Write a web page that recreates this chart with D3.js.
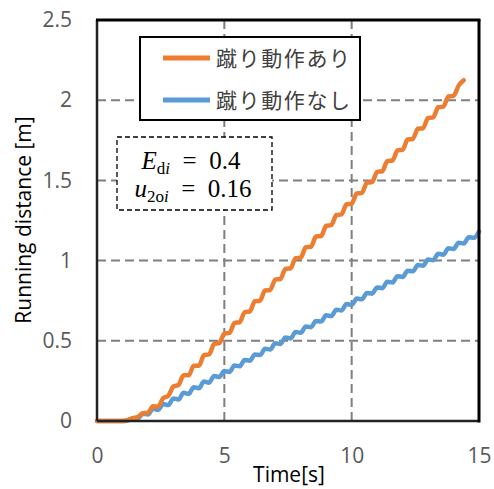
<!DOCTYPE html>
<html>
<head>
<meta charset="utf-8">
<script src="https://cdn.jsdelivr.net/npm/d3@7"></script>
<style>
  html, body { margin: 0; padding: 0; background: #fff; }
  svg { display: block; }
</style>
</head>
<body>
<svg id="chart" width="494" height="489"></svg>
<script>
// Sample times [s]
const timeS = [
  0.0, 0.2, 0.4, 0.6, 0.8, 1.0, 1.2, 1.4, 1.6, 1.8,
  2.0, 2.2, 2.4, 2.6, 2.8, 3.0, 3.2, 3.4, 3.6, 3.8,
  4.0, 4.2, 4.4, 4.6, 4.8, 5.0, 5.2, 5.4, 5.6, 5.8,
  6.0, 6.2, 6.4, 6.6, 6.8, 7.0, 7.2, 7.4, 7.6, 7.8,
  8.0, 8.2, 8.4, 8.6, 8.8, 9.0, 9.2, 9.4, 9.6, 9.8,
  10.0, 10.2, 10.4, 10.6, 10.8, 11.0, 11.2, 11.4, 11.6, 11.8,
  12.0, 12.2, 12.4, 12.6, 12.8, 13.0, 13.2, 13.4, 13.6, 13.8,
  14.0, 14.2, 14.4, 14.6, 14.8, 15.0
];

// Running distance [m] with kicking motion (ends at 14.4 s)
const distKick = [
  0, 0, 0, 0, 0, 0, 0.005, 0.018, 0.025, 0.048,
  0.052, 0.092, 0.090, 0.143, 0.157, 0.215, 0.225, 0.285, 0.285, 0.345,
  0.345, 0.410, 0.415, 0.480, 0.485, 0.545, 0.549, 0.612, 0.616, 0.679,
  0.683, 0.747, 0.750, 0.814, 0.817, 0.881, 0.885, 0.948, 0.952, 1.015,
  1.019, 1.083, 1.086, 1.150, 1.153, 1.217, 1.221, 1.284, 1.288, 1.351,
  1.355, 1.419, 1.422, 1.486, 1.489, 1.553, 1.557, 1.620, 1.624, 1.687,
  1.691, 1.755, 1.758, 1.822, 1.825, 1.889, 1.893, 1.956, 1.960, 2.023,
  2.027, 2.091, 2.125
];

// Running distance [m] without kicking motion
const distNoKick = [
  0, 0, 0, 0, 0, 0, 0.003, 0.016, 0.016, 0.045,
  0.041, 0.076, 0.069, 0.106, 0.099, 0.141, 0.134, 0.176, 0.169, 0.211,
  0.204, 0.246, 0.239, 0.281, 0.274, 0.311, 0.306, 0.346, 0.341, 0.381,
  0.376, 0.415, 0.411, 0.450, 0.446, 0.485, 0.480, 0.520, 0.515, 0.555,
  0.550, 0.589, 0.585, 0.624, 0.620, 0.659, 0.654, 0.694, 0.689, 0.729,
  0.724, 0.763, 0.759, 0.798, 0.794, 0.833, 0.828, 0.868, 0.863, 0.903,
  0.898, 0.937, 0.933, 0.972, 0.968, 1.007, 1.002, 1.042, 1.037, 1.077,
  1.072, 1.111, 1.107, 1.146, 1.142, 1.181
];

const xTicks = [0, 5, 10, 15];
const yTicks = [0, 0.5, 1, 1.5, 2, 2.5];
const seriesLabels = ["蹴り動作あり", "蹴り動作なし"];
const seriesColors = ["#ED7D31", "#5B9BD5"];

const svg = d3.select("#chart");
const x = d3.scaleLinear().domain([0, 15]).range([97, 479]);
const y = d3.scaleLinear().domain([0, 2.5]).range([421, 20]);
const labelFont = "'Open Sans', 'Liberation Sans', sans-serif";

// Gridlines (dashed)
const grid = svg.append("g").attr("stroke", "#7f7f7f").attr("stroke-width", 2)
  .attr("stroke-dasharray", "9,5");
grid.selectAll("line.h").data(yTicks.filter(v => v > 0 && v < 2.5)).join("line")
  .attr("class", "h")
  .attr("x1", x(0)).attr("x2", x(15))
  .attr("y1", d => y(d)).attr("y2", d => y(d));
grid.selectAll("line.v").data(xTicks.filter(v => v > 0 && v < 15)).join("line")
  .attr("class", "v")
  .attr("y1", y(2.5)).attr("y2", y(0))
  .attr("x1", d => x(d)).attr("x2", d => x(d));

// Axes: labels only
const yAxis = svg.append("g").attr("transform", `translate(${x(0)},0)`)
  .call(d3.axisLeft(y).tickValues(yTicks).tickSize(0).tickPadding(25)
    .tickFormat(d3.format("~g")));
yAxis.select(".domain").remove();
yAxis.selectAll("text").attr("fill", "#595959").style("font-size", "21px")
  .style("font-family", labelFont);

const xAxis = svg.append("g").attr("transform", `translate(0,${y(0)})`)
  .call(d3.axisBottom(x).tickValues(xTicks).tickSize(0).tickPadding(27)
    .tickFormat(d3.format("~g")));
xAxis.select(".domain").remove();
xAxis.selectAll("text").attr("fill", "#595959").style("font-size", "21px")
  .style("font-family", labelFont);

// Axis titles
svg.append("text").attr("x", 289).attr("y", 482).attr("text-anchor", "middle")
  .attr("fill", "#000").style("font-size", "21px").style("font-family", labelFont)
  .text("Time[s]");
svg.append("text").attr("transform", "translate(31,220) rotate(-90)")
  .attr("text-anchor", "middle").attr("fill", "#000")
  .style("font-size", "21px").style("font-family", labelFont)
  .text("Running distance [m]");

// Series lines
const line = d3.line().x(d => x(d[0])).y(d => y(d[1])).curve(d3.curveMonotoneX);
const kickPts = distKick.map((v, i) => [timeS[i], v]);
const noKickPts = distNoKick.map((v, i) => [timeS[i], v]);
svg.append("path").datum(noKickPts).attr("d", line).attr("fill", "none")
  .attr("stroke", seriesColors[1]).attr("stroke-width", 4.5)
  .attr("stroke-linejoin", "round").attr("stroke-linecap", "round");
svg.append("path").datum(kickPts).attr("d", line).attr("fill", "none")
  .attr("stroke", seriesColors[0]).attr("stroke-width", 4.5)
  .attr("stroke-linejoin", "round").attr("stroke-linecap", "round");

// Plot frame
svg.append("line").attr("x1", x(0)).attr("x2", x(15)).attr("y1", y(0)).attr("y2", y(0))
  .attr("stroke", "#222").attr("stroke-width", 2.5);
svg.append("line").attr("x1", x(0)).attr("x2", x(0)).attr("y1", y(2.5)).attr("y2", y(0))
  .attr("stroke", "#222").attr("stroke-width", 2.5);
svg.append("line").attr("x1", x(0) - 1).attr("x2", x(15) + 1.5).attr("y1", y(2.5)).attr("y2", y(2.5))
  .attr("stroke", "#000").attr("stroke-width", 3);
svg.append("line").attr("x1", x(15)).attr("x2", x(15)).attr("y1", y(2.5)).attr("y2", y(0) + 1.5)
  .attr("stroke", "#000").attr("stroke-width", 3);

// Legend
const legend = svg.append("g");
legend.append("rect").attr("x", 140).attr("y", 37).attr("width", 220).attr("height", 83)
  .attr("fill", "#fff").attr("stroke", "#000").attr("stroke-width", 2);
seriesLabels.forEach((lab, i) => {
  const ly = 58 + i * 42;
  legend.append("line").attr("x1", 163).attr("x2", 210).attr("y1", ly).attr("y2", ly)
    .attr("stroke", seriesColors[i]).attr("stroke-width", 5);
  legend.append("text").attr("x", 216).attr("y", ly).attr("dy", "0.36em")
    .attr("fill", "#404040").style("font-size", "21px").style("letter-spacing", "1.6px")
    .style("font-family", "'Noto Sans CJK JP', sans-serif").text(lab);
});

// Parameter box
const pbox = svg.append("g");
pbox.append("rect").attr("x", 117).attr("y", 137).attr("width", 155).attr("height", 73)
  .attr("fill", "#fff").attr("stroke", "#000").attr("stroke-width", 1.3)
  .attr("stroke-dasharray", "5,3");
const mathFont = "'Liberation Serif', 'DejaVu Serif', serif";
const t1 = pbox.append("text").attr("x", 191).attr("y", 169).attr("text-anchor", "middle")
  .style("font-family", mathFont).style("font-size", "25px").attr("fill", "#000");
t1.append("tspan").style("font-style", "italic").text("E");
t1.append("tspan").attr("dy", 5).style("font-size", "17px").text("d");
t1.append("tspan").style("font-size", "17px").style("font-style", "italic").text("i");
t1.append("tspan").attr("dy", -5).text("\u2002=\u20020.4");
const t2 = pbox.append("text").attr("x", 193).attr("y", 197).attr("text-anchor", "middle")
  .style("font-family", mathFont).style("font-size", "25px").attr("fill", "#000");
t2.append("tspan").style("font-style", "italic").text("u");
t2.append("tspan").attr("dy", 5).style("font-size", "17px").text("2o");
t2.append("tspan").style("font-size", "17px").style("font-style", "italic").text("i");
t2.append("tspan").attr("dy", -5).text("\u2002=\u20020.16");
</script>
</body>
</html>
